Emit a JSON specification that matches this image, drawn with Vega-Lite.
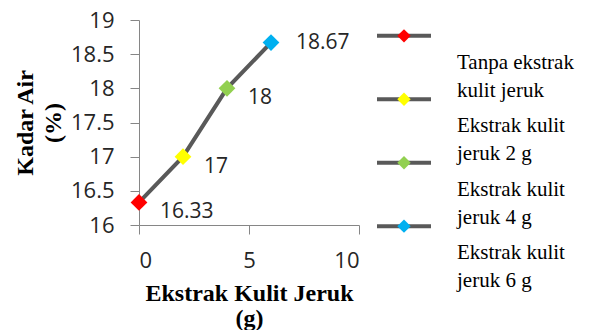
{
  "$schema": "https://vega.github.io/schema/vega-lite/v6.json",
  "padding": {"left": 13, "top": 9, "right": 0, "bottom": 0},
  "background": "white",
  "spacing": 15,
  "datasets": {
    "pts": [
      {"ekstrak": 0, "kadar": 16.33, "series": "Tanpa ekstrak kulit jeruk", "label": "Tanpa ekstrak\nkulit jeruk"},
      {"ekstrak": 2, "kadar": 17, "series": "Ekstrak kulit jeruk 2 g", "label": "Ekstrak kulit\njeruk 2 g"},
      {"ekstrak": 4, "kadar": 18, "series": "Ekstrak kulit jeruk 4 g", "label": "Ekstrak kulit\njeruk 4 g"},
      {"ekstrak": 6, "kadar": 18.67, "series": "Ekstrak kulit jeruk 6 g", "label": "Ekstrak kulit\njeruk 6 g"}
    ]
  },
  "config": {
    "view": {"stroke": null},
    "axis": {
      "grid": false,
      "labelFont": "Open Sans",
      "labelFontSize": 22,
      "labelColor": "#262626",
      "labelPadding": 16,
      "domainColor": "#868686",
      "tickColor": "#868686",
      "tickSize": 9,
      "titleFont": "Liberation Serif",
      "titleFontSize": 24,
      "titleFontWeight": "bold",
      "titleFontStyle": "normal",
      "titleColor": "black",
      "titleLineHeight": 28
    }
  },
  "hconcat": [
    {
      "width": 220,
      "height": 205,
      "data": {"name": "pts"},
      "encoding": {
        "x": {
          "field": "ekstrak", "type": "quantitative",
          "scale": {"domain": [0, 10], "nice": false},
          "axis": {"values": [0, 5, 10], "title": ["Ekstrak Kulit Jeruk", "(g)"], "titlePadding": 10, "titleLineHeight": 25}
        },
        "y": {
          "field": "kadar", "type": "quantitative",
          "scale": {"domain": [16, 19], "nice": false, "zero": false},
          "axis": {"values": [16, 16.5, 17, 17.5, 18, 18.5, 19], "format": "~g", "title": ["Kadar Air", "(%)"], "titlePadding": 5}
        }
      },
      "layer": [
        {"mark": {"type": "line", "color": "#595959", "strokeWidth": 4}},
        {
          "mark": {"type": "point", "shape": "diamond", "filled": true, "size": 280, "opacity": 1},
          "encoding": {
            "color": {
              "field": "series", "type": "nominal",
              "scale": {"domain": ["Tanpa ekstrak kulit jeruk", "Ekstrak kulit jeruk 2 g", "Ekstrak kulit jeruk 4 g", "Ekstrak kulit jeruk 6 g"], "range": ["#ff0000", "#ffff00", "#92d050", "#00b0f0"]},
              "legend": null
            }
          }
        },
        {
          "transform": [{"filter": "datum.kadar < 18.5"}],
          "mark": {"type": "text", "align": "left", "baseline": "middle", "dx": 21, "dy": 10, "font": "Open Sans", "fontSize": 21, "color": "#262626"},
          "encoding": {"text": {"field": "kadar", "type": "quantitative"}}
        },
        {
          "transform": [{"filter": "datum.kadar >= 18.5"}],
          "mark": {"type": "text", "align": "left", "baseline": "middle", "dx": 25, "dy": 0, "font": "Open Sans", "fontSize": 21, "color": "#262626"},
          "encoding": {"text": {"field": "kadar", "type": "quantitative"}}
        }
      ]
    },
    {
      "width": 200,
      "height": 222,
      "data": {"name": "pts"},
      "encoding": {
        "y": {"field": "series", "type": "nominal", "sort": null, "scale": {"type": "point", "padding": 0.25}, "axis": null}
      },
      "layer": [
        {
          "mark": {"type": "rule", "color": "#595959", "strokeWidth": 4},
          "encoding": {
            "x": {"datum": 0, "type": "quantitative", "scale": {"domain": [0, 10], "nice": false}, "axis": null},
            "x2": {"datum": 2.7}
          }
        },
        {
          "mark": {"type": "point", "shape": "diamond", "filled": true, "size": 180, "opacity": 1},
          "encoding": {
            "x": {"datum": 1.35, "type": "quantitative"},
            "color": {"field": "series", "type": "nominal", "legend": null}
          }
        },
        {
          "mark": {"type": "text", "align": "left", "baseline": "alphabetic", "dy": 33, "lineBreak": "\n", "lineHeight": 28, "font": "Liberation Serif", "fontSize": 21, "color": "black"},
          "encoding": {
            "x": {"datum": 4, "type": "quantitative"},
            "text": {"field": "label", "type": "nominal"}
          }
        }
      ]
    }
  ]
}
